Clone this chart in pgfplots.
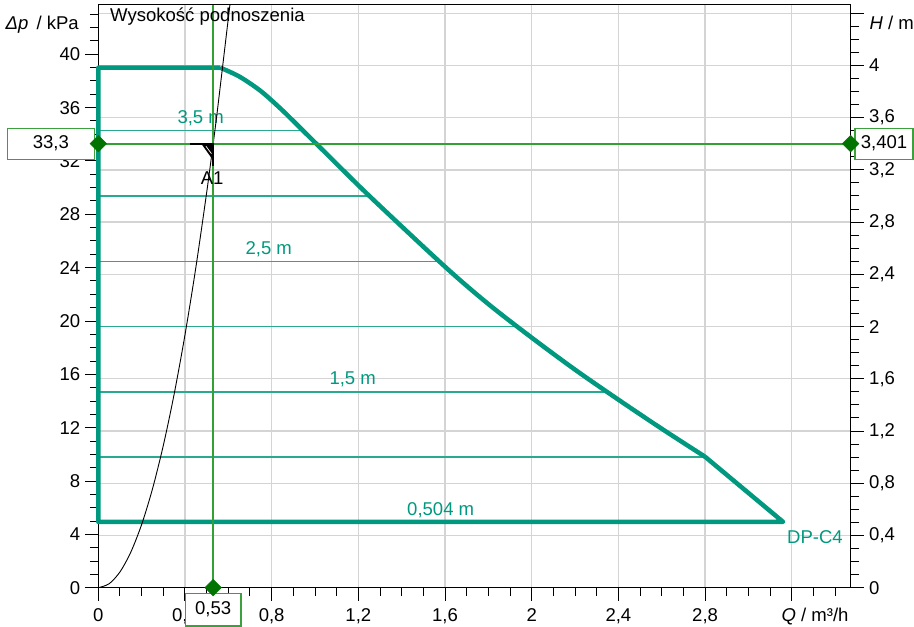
\documentclass[border=0pt]{standalone}
\usepackage{fontspec}
\setmainfont{Liberation Sans}
\usepackage{pgfplots}
\pgfplotsset{compat=1.18}
\definecolor{teal1}{RGB}{0,152,126}
\definecolor{teal2}{RGB}{40,170,145}
\definecolor{gline}{RGB}{50,160,50}
\definecolor{gbox}{RGB}{60,160,60}
\definecolor{gdia}{RGB}{0,115,0}
\definecolor{gridc}{RGB}{212,212,212}
\newcommand\fs{\fontsize{18.6}{21}\selectfont}
\begin{document}
\begin{tikzpicture}
\pgfplotsset{
  base/.style={
    scale only axis, width=752.4bp, height=583bp,
    xmin=0, xmax=3.472,
    anchor=south west, at={(0,0)},
    tick align=outside,
    major tick length=13bp, minor tick length=8.5bp,
    every tick/.style={black, line width=1bp},
    tick label style={font=\fs},
    /pgf/number format/assume math mode=true,
    axis line style={line width=1.2bp},
    grid style={gridc, line width=1.3bp},
  }
}
% right axis H / m
\begin{axis}[base,
  ymin=0, ymax=4.465,
  hide x axis,
  axis y line*=right,
  ytick={0,0.4,0.8,1.2,1.6,2,2.4,2.8,3.2,3.6,4,4.4},
  yticklabels={0,{0,4},{0,8},{1,2},{1,6},2,{2,4},{2,8},{3,2},{3,6},4,},
  yticklabel style={xshift=2bp},
  minor ytick={0,0.1,...,4.45},
  ymajorgrids,
]
\end{axis}
% main axis dp / kPa
\begin{axis}[base,
  ymin=0, ymax=43.72,
  xtick={0,0.4,0.8,1.2,1.6,2,2.4,2.8,3.2},
  xticklabels={0,{0,4},{0,8},{1,2},{1,6},2,{2,4},{2,8},},
  xticklabel style={yshift=-4bp},
  yticklabel style={xshift=-1.5bp},
  minor xtick={0,0.1,...,3.45},
  ytick={0,4,8,12,16,20,24,28,32,36,40},
  minor ytick={0,1,...,43},
  xtick pos=left, ytick pos=left,
  xmajorgrids,
  clip=false,
]
% constant pressure lines
\addplot[teal2, line width=1.4bp] coordinates {(0,34.27) (0.945,34.27)};
\addplot[teal2, line width=1.4bp] coordinates {(0,29.37) (1.251,29.37)};
\addplot[teal2, line width=1.4bp] coordinates {(0,24.48) (1.573,24.48)};
\addplot[teal2, line width=1.4bp] coordinates {(0,19.58) (1.934,19.58)};
\addplot[teal2, line width=1.4bp] coordinates {(0,14.69) (2.348,14.69)};
\addplot[teal2, line width=1.4bp] coordinates {(0,9.791) (2.802,9.791)};
% pump curve
\addplot[teal1, line width=4.5bp, line join=round] coordinates {(0.562,39.0) (0,39.0) (0,4.935) (3.16,4.935) (2.8,9.82)};
\addplot[teal1, line width=4.5bp, smooth, line join=round] coordinates {(0.562,39.0) (0.65,38.34) (0.75,37.24) (0.85,35.79) (0.95,34.19) (1.05,32.59) (1.25,29.39) (1.6,24.07) (1.8,21.27) (2.0,18.75) (2.2,16.35) (2.4,14.1) (2.6,11.92) (2.8,9.82)};
% labels of lines
\node[teal1, font=\fs, anchor=base, inner sep=0] at ([yshift=7bp]axis cs:0.4725,34.27) {3,5 m};
\node[teal1, font=\fs, anchor=base, inner sep=0] at ([yshift=7bp]axis cs:0.7865,24.48) {2,5 m};
\node[teal1, font=\fs, anchor=base, inner sep=0] at ([yshift=7bp]axis cs:1.174,14.69) {1,5 m};
\node[teal1, font=\fs, anchor=base, inner sep=0] at ([yshift=6bp]axis cs:1.58,4.935) {0,504 m};
\node[teal1, font=\fs, anchor=base west, inner sep=0] at (axis cs:3.178,3.35) {DP-C4};
% system curve
\addplot[black, line width=0.9bp, smooth] coordinates {(0,0) (0.05,0.296) (0.1,1.185) (0.15,2.666) (0.2,4.74) (0.25,7.406) (0.3,10.665) (0.35,14.516) (0.4,18.96) (0.45,23.996) (0.5,29.625) (0.53,33.287) (0.55,35.846) (0.6074,43.72)};
% cross hair
\addplot[gline, line width=1.6bp] coordinates {(0.53,0) (0.53,43.72)};
\addplot[gline, line width=1.9bp] coordinates {(0,33.3) (3.472,33.3)};
% A1 marker
\addplot[black, line width=1.8bp] coordinates {(0.423,33.3) (0.53,33.3) (0.53,31.65)};
\addplot[black, fill=black] coordinates {(0.475,33.3) (0.53,33.3) (0.53,32.05)};
\addplot[white, line width=0.7bp] coordinates {(0.497,33.1) (0.522,32.55)};
\node[font=\fs, anchor=base, inner sep=0] at ([xshift=-1bp]axis cs:0.53,30.2) {A1};
% boxes
\node[draw=gbox, fill=white, line width=1.2bp, minimum width=87bp, minimum height=31bp, inner sep=0, font=\fs] at ([xshift=-47.5bp]axis cs:0,33.3) {33,3};
\node[draw=gbox, fill=white, line width=1.2bp, minimum width=58bp, minimum height=31bp, inner sep=0, font=\fs] at ([xshift=33.3bp]axis cs:3.472,33.3) {3,401};
\node[draw=gbox, fill=white, line width=1.2bp, minimum width=55.7bp, minimum height=32.7bp, inner sep=0, font=\fs] at ([yshift=-22bp]axis cs:0.53,0) {0,53};
% diamonds
\addplot[only marks, mark=square*, mark size=5.9bp, mark options={rotate=45, fill=gdia, draw=gdia}] coordinates {(0,33.3) (3.472,33.3) (0.53,0)};
% texts
\node[font=\fs, anchor=base west, inner sep=0] at ([xshift=11.7bp, yshift=-17bp]rel axis cs:0,1) {Wysokość podnoszenia};
\node[font=\fs, anchor=base east, inner sep=0] at ([xshift=-19.3bp, yshift=-25.3bp]rel axis cs:0,1) {\textit{Δp}\, / kPa};
\node[font=\fs, anchor=base west, inner sep=0] at ([xshift=18.6bp, yshift=-25.3bp]rel axis cs:1,1) {\textit{H} / m};
\node[font=\fs, anchor=base east, inner sep=0] at ([xshift=-2bp, yshift=-34bp]rel axis cs:1,0) {\textit{Q} / m³/h};
\end{axis}
\pgfresetboundingbox
\path (-98.3bp,-39.3bp) rectangle (815.7bp,587.7bp);
\end{tikzpicture}
\end{document}
